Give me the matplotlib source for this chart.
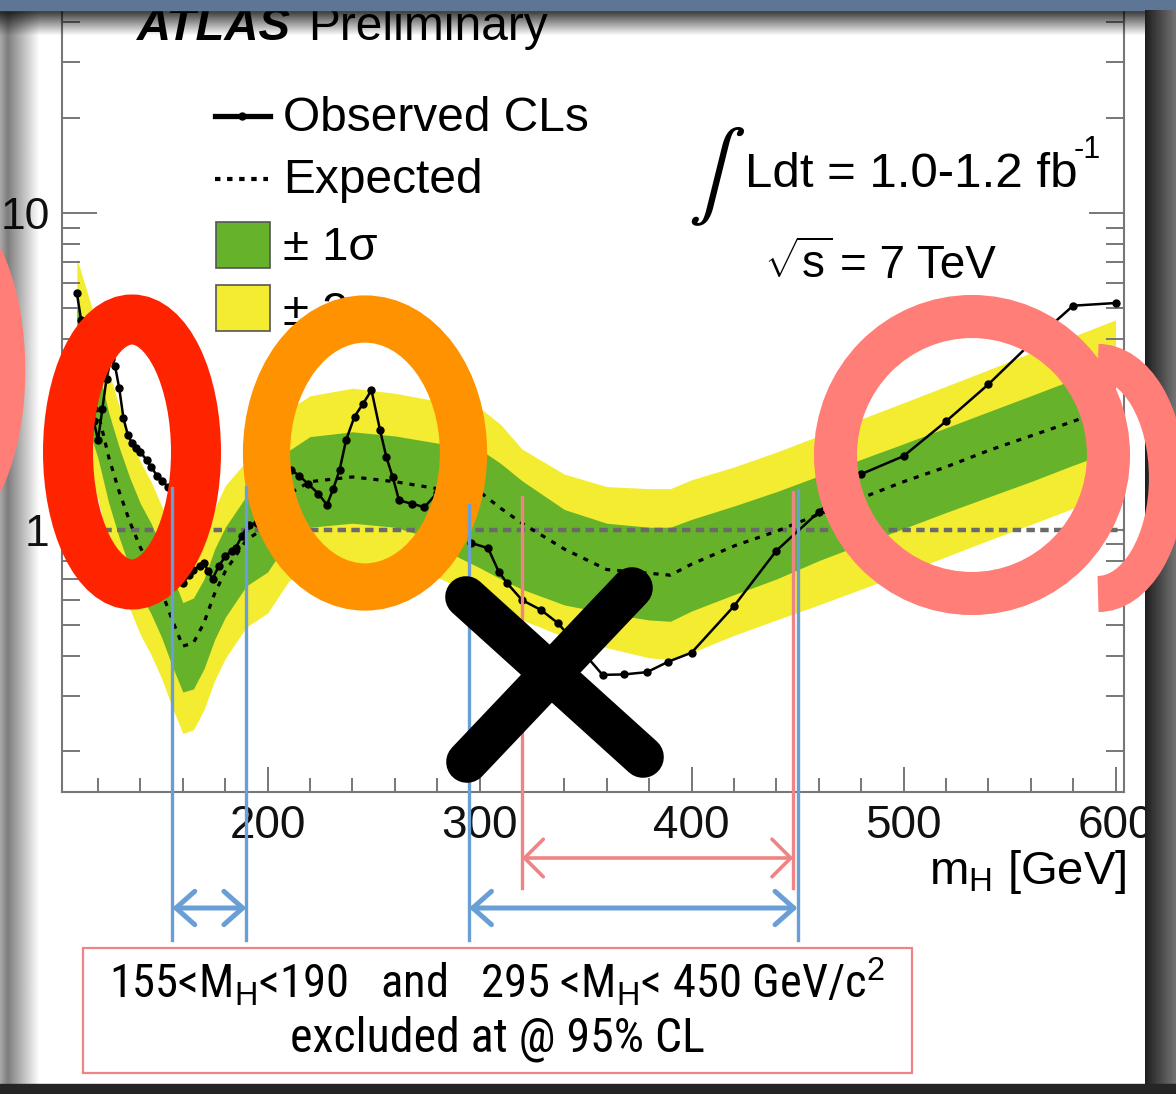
import numpy as np
import matplotlib.pyplot as plt
import matplotlib.transforms as mtransforms
from matplotlib.patches import Ellipse, Arc, Rectangle
from matplotlib.ticker import MultipleLocator, LogLocator, NullFormatter, FuncFormatter

plt.rcParams['font.family'] = ['Liberation Sans', 'DejaVu Sans']
plt.rcParams['mathtext.fontset'] = 'custom'
plt.rcParams['mathtext.rm'] = 'Liberation Sans'
plt.rcParams['mathtext.it'] = 'Liberation Sans:italic'
plt.rcParams['mathtext.bf'] = 'Liberation Sans:bold'

# observed CLs vs Higgs mass
obs_mass = [110, 112, 114, 116, 118, 120, 122, 124, 126, 128, 130, 132, 134, 136, 138,
            140, 143, 145, 148, 150, 153, 155, 157, 160, 163, 165, 168, 170, 172, 174,
            177, 180, 183, 185, 188, 191, 195, 199, 211, 215, 219, 224, 228, 231, 234,
            237, 241, 245, 249, 253, 256, 259, 262, 268, 274, 280, 285, 290, 296, 304,
            309, 313, 320, 329, 337, 358, 368, 379, 389, 400, 420, 440, 460, 480, 500,
            520, 540, 560, 580, 600]
obs_cls = [5.6, 4.6, 3.6, 2.8, 2.2, 1.92, 2.4, 3.0, 3.45, 3.3, 2.8, 2.25, 2.0, 1.88, 1.82,
           1.76, 1.66, 1.58, 1.48, 1.43, 1.37, 1.28, 1.08, 0.68, 0.72, 0.75, 0.77, 0.785, 0.74, 0.70,
           0.77, 0.825, 0.86, 0.88, 0.96, 1.04, 1.05, 1.05, 1.55, 1.48, 1.40, 1.30, 1.20, 1.35, 1.55,
           1.92, 2.28, 2.50, 2.76, 2.07, 1.70, 1.47, 1.24, 1.21, 1.18, 1.31, 1.30, 1.10, 0.91, 0.876,
           0.739, 0.679, 0.601, 0.559, 0.508, 0.349, 0.350, 0.356, 0.384, 0.41, 0.575, 0.86, 1.14, 1.50, 1.71,
           2.2, 2.88, 3.88, 5.1, 5.2]

# expected CLs and the 1 / 2 sigma bands
band_mass = [110, 115, 120, 125, 130, 135, 140, 145, 150, 155, 160, 165, 170, 175, 180,
             190, 200, 210, 220, 240, 260, 280, 290, 300, 310, 320, 340, 360, 380, 390,
             400, 420, 440, 460, 480, 500, 520, 540, 560, 580, 600]
exp_cls = [3.7, 3.0, 2.35, 1.70, 1.32, 1.06, 0.88, 0.76, 0.64, 0.52, 0.43, 0.44, 0.51, 0.63, 0.74,
           0.93, 1.03, 1.30, 1.42, 1.47, 1.42, 1.35, 1.33, 1.32, 1.17, 1.05, 0.87, 0.75, 0.73, 0.72,
           0.78, 0.89, 0.99, 1.12, 1.26, 1.42, 1.58, 1.78, 1.98, 2.20, 2.47]
sig1_hi = [5.1, 4.14, 3.24, 2.35, 1.82, 1.46, 1.21, 1.05, 0.88, 0.72, 0.59, 0.61, 0.70, 0.87, 1.02,
           1.28, 1.42, 1.78, 1.97, 2.04, 1.98, 1.88, 1.84, 1.80, 1.62, 1.43, 1.16, 1.05, 1.02, 1.02,
           1.08, 1.19, 1.32, 1.48, 1.67, 1.87, 2.10, 2.36, 2.65, 2.98, 3.35]
sig1_lo = [2.65, 2.15, 1.68, 1.22, 0.945, 0.76, 0.63, 0.544, 0.458, 0.372, 0.308, 0.315, 0.365, 0.451, 0.53,
           0.666, 0.737, 0.93, 1.02, 1.05, 1.02, 0.93, 0.82, 0.76, 0.70, 0.65, 0.58, 0.546, 0.52, 0.515,
           0.555, 0.625, 0.70, 0.80, 0.90, 1.01, 1.135, 1.27, 1.42, 1.60, 1.79]
sig2_hi = [7.2, 5.59, 4.38, 3.17, 2.46, 1.97, 1.64, 1.42, 1.19, 0.968, 0.80, 0.82, 0.95, 1.17, 1.38,
           1.65, 1.92, 2.40, 2.65, 2.80, 2.70, 2.55, 2.50, 2.43, 2.15, 1.80, 1.50, 1.37, 1.35, 1.35,
           1.44, 1.58, 1.76, 1.98, 2.24, 2.52, 2.84, 3.20, 3.62, 4.08, 4.6]
sig2_lo = [1.96, 1.59, 1.25, 0.90, 0.70, 0.563, 0.467, 0.404, 0.34, 0.276, 0.228, 0.234, 0.271, 0.335, 0.393,
           0.494, 0.547, 0.69, 0.76, 0.79, 0.76, 0.71, 0.66, 0.62, 0.56, 0.52, 0.46, 0.425, 0.395, 0.39,
           0.41, 0.465, 0.52, 0.58, 0.65, 0.73, 0.823, 0.927, 1.04, 1.17, 1.32]

# excluded mass windows
obs_excluded = [(155, 190), (295, 450)]
exp_excluded = (320, 448)

GREEN = '#66b32b'
YELLOW = '#f4ec30'
BLUE = '#6a9fd6'
PINK = '#ee8484'
SALMON = '#ff7e78'

W, H = 1176, 1094
fig = plt.figure(figsize=(W / 100, H / 100), dpi=100)
fig.patch.set_facecolor('white')


def pixbox(x0, y0, x1, y1):
    return [x0 / W, 1 - y1 / H, (x1 - x0) / W, (y1 - y0) / H]


# main CLs panel
ax = fig.add_axes(pixbox(62, 0, 1124, 792))
ax.set_yscale('log')
ax.set_xlim(103, 604)
ax.set_ylim(0.149, 47)

ax.fill_between(band_mass, sig2_lo, sig2_hi, color=YELLOW, lw=0, zorder=1)
ax.fill_between(band_mass, sig1_lo, sig1_hi, color=GREEN, lw=0, zorder=2)
ax.axhline(1, color='#6a6a6a', lw=3.2, dashes=(1.9, 1.2), zorder=3)
ax.plot(band_mass, exp_cls, color='black', lw=2.3, dashes=(1.6, 2.2), zorder=4)
ax.plot(obs_mass, obs_cls, color='black', lw=1.8, marker='o', ms=5, zorder=5)

ax.xaxis.set_major_locator(MultipleLocator(100))
ax.xaxis.set_minor_locator(MultipleLocator(20))
ax.yaxis.set_major_locator(LogLocator(base=10))
ax.yaxis.set_minor_locator(LogLocator(base=10, subs=np.arange(2, 10)))
ax.yaxis.set_major_formatter(FuncFormatter(lambda v, p: f'{v:g}'))
ax.yaxis.set_minor_formatter(NullFormatter())

ax.tick_params(axis='both', which='both', direction='in', color='#777777', width=1.4,
               labelsize=33, labelcolor='#111111')
ax.tick_params(axis='x', which='major', length=18, pad=9, top=False)
ax.tick_params(axis='x', which='minor', length=10, top=False)
ax.tick_params(axis='y', which='major', length=25, pad=9, right=True, labelsize=32)
ax.tick_params(axis='y', which='minor', length=13, right=True)
for side in ['left', 'right', 'bottom']:
    ax.spines[side].set_color('#777777')
    ax.spines[side].set_linewidth(1.5)
ax.spines['top'].set_visible(False)

# overlay in pixel coordinates for labels, legend and the hand annotations
ov = fig.add_axes([0, 0, 1, 1], facecolor='none')
ov.set_zorder(5)
ov.axis('off')
blend = mtransforms.blended_transform_factory(ax.transData, ov.transData)

ov.text(137, 40, 'ATLAS', fontsize=34, fontweight='bold', style='italic', va='baseline', zorder=2)
ov.text(308, 40, 'Preliminary', fontsize=34.5, va='baseline', zorder=2)

# legend
ov.plot([215, 270], [116, 116], color='black', lw=3.8, zorder=2)
ov.plot([242], [116], 'o', color='black', ms=5, zorder=2)
ov.plot([215, 268], [179, 179], color='black', lw=3, dashes=(1.3, 1.6), zorder=2)
ov.add_patch(Rectangle((216, 222), 54, 46, fc=GREEN, ec='#555555', lw=1.2, zorder=2))
ov.add_patch(Rectangle((216, 285), 54, 46, fc=YELLOW, ec='#555555', lw=1.2, zorder=2))
ov.text(283, 131, 'Observed CLs', fontsize=34.5, va='baseline', zorder=2)
ov.text(283, 193, 'Expected', fontsize=34.5, va='baseline', zorder=2)
ov.text(283, 260, '± 1σ', fontsize=34, va='baseline', zorder=2)
ov.text(283, 325, '± 2σ', fontsize=34, va='baseline', zorder=2)

ov.text(716, 177, r'$\int$', fontsize=62, math_fontfamily='stix', ha='center', va='center', zorder=2)
ov.text(745, 187, 'Ldt = 1.0-1.2 fb', fontsize=35.5, va='baseline', zorder=2)
ov.text(1074, 158, '-1', fontsize=22, va='baseline', zorder=2)
ov.text(764, 278, r'$\sqrt{\mathrm{s}}$', fontsize=33, va='baseline', zorder=2)
ov.text(840, 278, '= 7 TeV', fontsize=33, va='baseline', zorder=2)

ov.text(1126, 884, r'm$_\mathrm{H}$ [GeV]', fontsize=34, ha='right', va='baseline', zorder=2)

# hand-drawn circles
ov.add_patch(Ellipse((132, 452), 128, 265, fill=False, ec='#ff2400', lw=36, zorder=4))
ov.add_patch(Ellipse((365, 453), 197, 268, fill=False, ec='#ff9200', lw=34, zorder=4))
ov.add_patch(Ellipse((972, 455), 273, 277, fill=False, ec=SALMON, lw=31, zorder=4))
ov.add_patch(Arc((1098, 478), 138, 232, theta1=-90, theta2=90, ec=SALMON, lw=26, zorder=11))
ov.add_patch(Arc((-55, 370), 130, 300, theta1=-90, theta2=90, ec=SALMON, lw=22, zorder=11))

# exclusion markers below the axis
for lo, hi in obs_excluded:
    for m, top in ((lo, 488 if lo < 200 else 505), (hi, 487 if hi < 200 else 490)):
        ov.plot([m, m], [top, 940], color=BLUE, lw=2.4, transform=blend, zorder=5, clip_on=False)
    ov.annotate('', xy=(hi, 908), xytext=(lo, 908), xycoords=blend, textcoords=blend,
                arrowprops=dict(arrowstyle='<->,head_length=0.45,head_width=0.4', color=BLUE,
                                lw=3.6, mutation_scale=30, shrinkA=0, shrinkB=0), zorder=5)
for m, top in zip(exp_excluded, (497, 492)):
    ov.plot([m, m], [top, 888], color=PINK, lw=2.4, transform=blend, zorder=5, clip_on=False)
ov.annotate('', xy=(exp_excluded[1], 858), xytext=(exp_excluded[0], 858), xycoords=blend,
            textcoords=blend,
            arrowprops=dict(arrowstyle='<->,head_length=0.45,head_width=0.45', color=PINK,
                            lw=2.6, mutation_scale=30, shrinkA=0, shrinkB=0), zorder=5)

# the cross
ov.plot([466, 643], [597, 757], color='black', lw=30, solid_capstyle='round', zorder=6)
ov.plot([632, 467], [588, 762], color='black', lw=30, solid_capstyle='round', zorder=6)

# summary box
ov.add_patch(Rectangle((83, 948), 829, 125, fill=False, ec=PINK, lw=1.6, zorder=5))
narrow = ['Roboto Condensed', 'Liberation Sans Narrow', 'DejaVu Sans']
ov.text(497, 998, r'155<M$_\mathrm{H}$<190   and   295 <M$_\mathrm{H}$< 450 GeV/c$^2$',
        fontsize=33.5, family=narrow, fontstretch='condensed', ha='center', va='baseline', zorder=5)
ov.text(497, 1052, 'excluded at @ 95% CL', fontsize=34.5, family=narrow, fontstretch='condensed',
        ha='center', va='baseline', zorder=5)

# slide frame around the picture
ov.add_patch(Rectangle((0, 0), W, 10, color='#5e7696', zorder=10))
top_shade = np.zeros((26, 1, 4))
top_shade[:, 0, 3] = np.linspace(0.8, 0.0, 26)
ov.imshow(top_shade, extent=(0, W, 36, 10), aspect='auto', interpolation='bilinear', zorder=9)
left_shade = np.zeros((1, 40, 4))
left_shade[0, :, 3] = np.concatenate([np.linspace(0.35, 0.5, 8), np.linspace(0.5, 0.0, 32)])
ov.imshow(left_shade, extent=(0, 40, 1084, 10), aspect='auto', interpolation='bilinear', zorder=9)
right_frame = np.zeros((1, 31, 4))
right_frame[0, :, :3] = np.linspace(0.12, 0.45, 31)[:, None]
right_frame[0, :, 3] = 1.0
ov.imshow(right_frame, extent=(1145, 1176, 1094, 10), aspect='auto', interpolation='bilinear', zorder=10)
ov.add_patch(Rectangle((0, 1084), W, 10, color='#252525', zorder=10))

ov.set_xlim(0, W)
ov.set_ylim(H, 0)

fig.savefig('out.png', dpi=100)
